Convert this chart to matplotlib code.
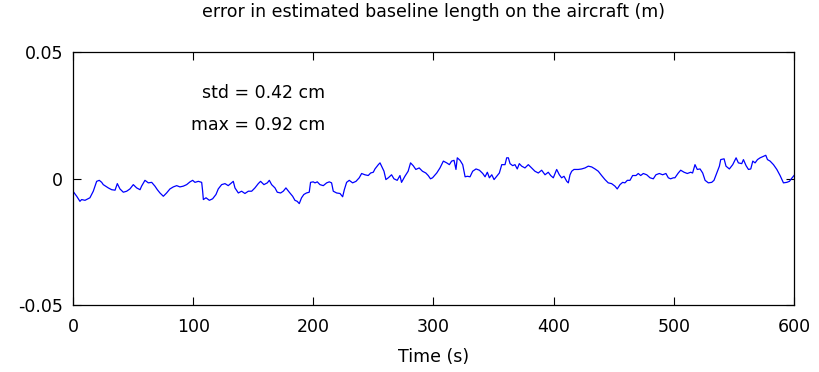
import matplotlib
matplotlib.use("Agg")
import matplotlib.pyplot as plt

# time (s)
time_s = [
    0, 3.1, 5.8, 7.2, 10, 14.1, 16.9, 19.7, 21.9, 23.9, 25.2, 29.4, 32.2, 35, 36.9, 39.1,
    41.9, 44.7, 47.4, 50.2, 53, 55.8, 57.1, 59.9, 62.7, 65.5, 68.2, 70.2, 72.4, 75.2, 77.9,
    80.7, 83.5, 86.3, 89, 91.8, 94.6, 97.4,
    99.6, 101.5, 104.3, 107.1, 107.9, 108.5, 110.7, 113.5, 116.2, 119, 120.9, 123.7, 126.5,
    129.2, 132, 133.4, 134.8, 137.6, 140.3, 143.1, 145.9, 148.7, 151.4, 154.2, 156.1, 158.9,
    161.7, 163.4, 165.3, 168.1, 170, 172.8, 175, 177.2, 180, 182.8, 184.7, 186.6, 188.3,
    190.2, 192.1, 194.3, 196.6, 197.7, 199.9,
    201.4, 203.3, 205.5, 208.3, 211.1, 213.3, 215.2, 216.6, 219.4, 222.2, 224.4, 225.8,
    227.7, 229.9, 232.7, 235.5, 238.2, 240.2, 242.9, 245.7, 247.7, 249.9, 251.3, 254.1,
    255.5, 256.8, 258.8, 260.4, 262.4, 265.1, 267.1, 269.8, 272.1, 273.4, 276.2, 278.9,
    280.9, 283.1, 285.3, 288.1, 290.8, 293.6, 295.6, 297.5, 299.2,
    302.7, 305.4, 308.2, 311, 313.2, 315.1, 317.1, 318.7, 319.8, 322.1, 324.3, 326.3, 328.2,
    330.4, 332.6, 335.4, 338.2, 341, 342.9, 344.8, 346.5, 348.5, 350.4, 352.6, 354.8, 356.8,
    359.5, 360.9, 362.3, 363.7, 365.9, 367.8, 369.7, 371.4, 373.4, 376.1, 378.9, 381.7,
    384.4, 387.2, 390, 392.8, 395.5, 397.5, 399.7,
    402.5, 404.7, 406.6, 408.6, 410.9, 412.2, 413.6, 415, 416.9, 420.5, 423.3, 426.1, 428.8,
    431.6, 434.4, 437.1, 439.9, 442.7, 445.4, 448.2, 451, 452.9, 455.2, 457.4, 459.3, 461.3,
    463.5, 465.7, 468.5, 470.4, 472.4, 474.6, 477.4, 480.2, 482.9, 485.1, 487.9, 490.7,
    493.4, 495.4, 497.3, 499.6,
    500.9, 503.7, 505.7, 508.5, 511.2, 514, 515.6, 517.6, 519.5, 521.8, 524, 526, 528.7,
    531.5, 533.4, 535.6, 537.9, 539, 541.8, 543.4, 546.2, 549, 551.8, 553.7, 556.5, 557.9,
    560.1, 562.1, 564, 565.7, 567.6, 569.6, 571.8, 574.6, 576.5, 577.9, 580.1, 582.9, 585.7,
    588.4, 591.2, 594, 596.2, 598.4, 600,
]

# baseline length error (m)
error_m = [
    -0.0050, -0.0070, -0.0090, -0.0083, -0.0086, -0.0076, -0.0050, -0.0011, -0.0007, -0.0015,
    -0.0024, -0.0037, -0.0044, -0.0046, -0.0020, -0.0041, -0.0054, -0.0050, -0.0041, -0.0024,
    -0.0037, -0.0044, -0.0030, -0.0007, -0.0017, -0.0015, -0.0030, -0.0044, -0.0057, -0.0070,
    -0.0057, -0.0041, -0.0033, -0.0028, -0.0033, -0.0030, -0.0024, -0.0013,
    -0.0007, -0.0015, -0.0011, -0.0015, -0.0050, -0.0083, -0.0076, -0.0086, -0.0080, -0.0063,
    -0.0041, -0.0024, -0.0020, -0.0028, -0.0017, -0.0011, -0.0037, -0.0057, -0.0050, -0.0059,
    -0.0050, -0.0050, -0.0037, -0.0020, -0.0011, -0.0024, -0.0017, -0.0007, -0.0024, -0.0037,
    -0.0054, -0.0057, -0.0050, -0.0037, -0.0054, -0.0070, -0.0086, -0.0090, -0.0099, -0.0076,
    -0.0063, -0.0057, -0.0054, -0.0015, -0.0013,
    -0.0017, -0.0013, -0.0024, -0.0028, -0.0017, -0.0013, -0.0017, -0.0050, -0.0057, -0.0059,
    -0.0072, -0.0044, -0.0015, -0.0007, -0.0017, -0.0011, 0.0003, 0.0020, 0.0015, 0.0012,
    0.0022, 0.0025, 0.0038, 0.0055, 0.0062, 0.0049, 0.0029, -0.0004, 0.0003, 0.0015,
    -0.0001, -0.0007, 0.0012, -0.0015, 0.0009, 0.0029, 0.0062, 0.0051, 0.0036, 0.0042,
    0.0029, 0.0022, 0.0012, -0.0001, 0.0003,
    0.0022, 0.0042, 0.0069, 0.0062, 0.0055, 0.0069, 0.0072, 0.0036, 0.0082, 0.0072,
    0.0055, 0.0007, 0.0009, 0.0007, 0.0029, 0.0038, 0.0033, 0.0020, 0.0007, 0.0025,
    0.0003, 0.0015, -0.0004, 0.0009, 0.0022, 0.0055, 0.0055, 0.0082, 0.0082, 0.0059,
    0.0051, 0.0055, 0.0038, 0.0059, 0.0049, 0.0042, 0.0055, 0.0042, 0.0029, 0.0022,
    0.0033, 0.0015, 0.0025, 0.0012, 0.0003,
    0.0036, 0.0015, 0.0003, 0.0009, -0.0011, -0.0017, 0.0015, 0.0029, 0.0036, 0.0036,
    0.0038, 0.0042, 0.0049, 0.0046, 0.0038, 0.0029, 0.0012, -0.0004, -0.0017, -0.0020,
    -0.0030, -0.0041, -0.0024, -0.0015, -0.0017, -0.0007, -0.0007, 0.0012, 0.0012, 0.0020,
    0.0012, 0.0020, 0.0015, 0.0003, -0.0001, 0.0015, 0.0020, 0.0015, 0.0020, 0.0003,
    -0.0001, 0.0003,
    0.0003, 0.0022, 0.0033, 0.0025, 0.0020, 0.0025, 0.0022, 0.0055, 0.0036, 0.0038,
    0.0022, -0.0007, -0.0017, -0.0015, -0.0007, 0.0020, 0.0049, 0.0075, 0.0078, 0.0049,
    0.0038, 0.0055, 0.0082, 0.0062, 0.0059, 0.0075, 0.0051, 0.0036, 0.0038, 0.0069,
    0.0062, 0.0075, 0.0082, 0.0088, 0.0092, 0.0075, 0.0069, 0.0055, 0.0036, 0.0012,
    -0.0017, -0.0015, -0.0011, 0.0003, 0.0012,
]

x_ticks = [0, 100, 200, 300, 400, 500, 600]
y_ticks = [-0.05, 0, 0.05]
y_tick_labels = ["-0.05", "0", "0.05"]
annotations = ["std = 0.42 cm", "max = 0.92 cm"]

plt.rcParams['font.family'] = ['DejaVu Sans']

fig = plt.figure(figsize=(8.19, 3.72), dpi=100)
ax = fig.add_axes([0.0891, 0.180, 0.8804, 0.680])

ax.plot(time_s, error_m, color=(0, 0, 1), linewidth=0.9)

ax.set_xlim(0, 600)
ax.set_ylim(-0.05, 0.05)
ax.set_xticks(x_ticks)
ax.set_xticklabels([str(v) for v in x_ticks])
ax.set_yticks(y_ticks)
ax.set_yticklabels(y_tick_labels)

ax.tick_params(direction='in', length=5.5, width=0.8, top=True, right=True,
               labelsize=12.5, colors='black')
ax.tick_params(axis='x', pad=9)
ax.tick_params(axis='y', pad=7)
for sp in ax.spines.values():
    sp.set_linewidth(0.9)
    sp.set_color('black')

ax.set_title("error in estimated baseline length on the aircraft (m)", fontsize=12.5, pad=25)
ax.set_xlabel("Time (s)", fontsize=12.5, labelpad=9)

ax.text(210, 0.034, annotations[0], fontsize=12.5, ha='right', va='center')
ax.text(210, 0.0213, annotations[1], fontsize=12.5, ha='right', va='center')

fig.savefig("out.png", dpi=100)
